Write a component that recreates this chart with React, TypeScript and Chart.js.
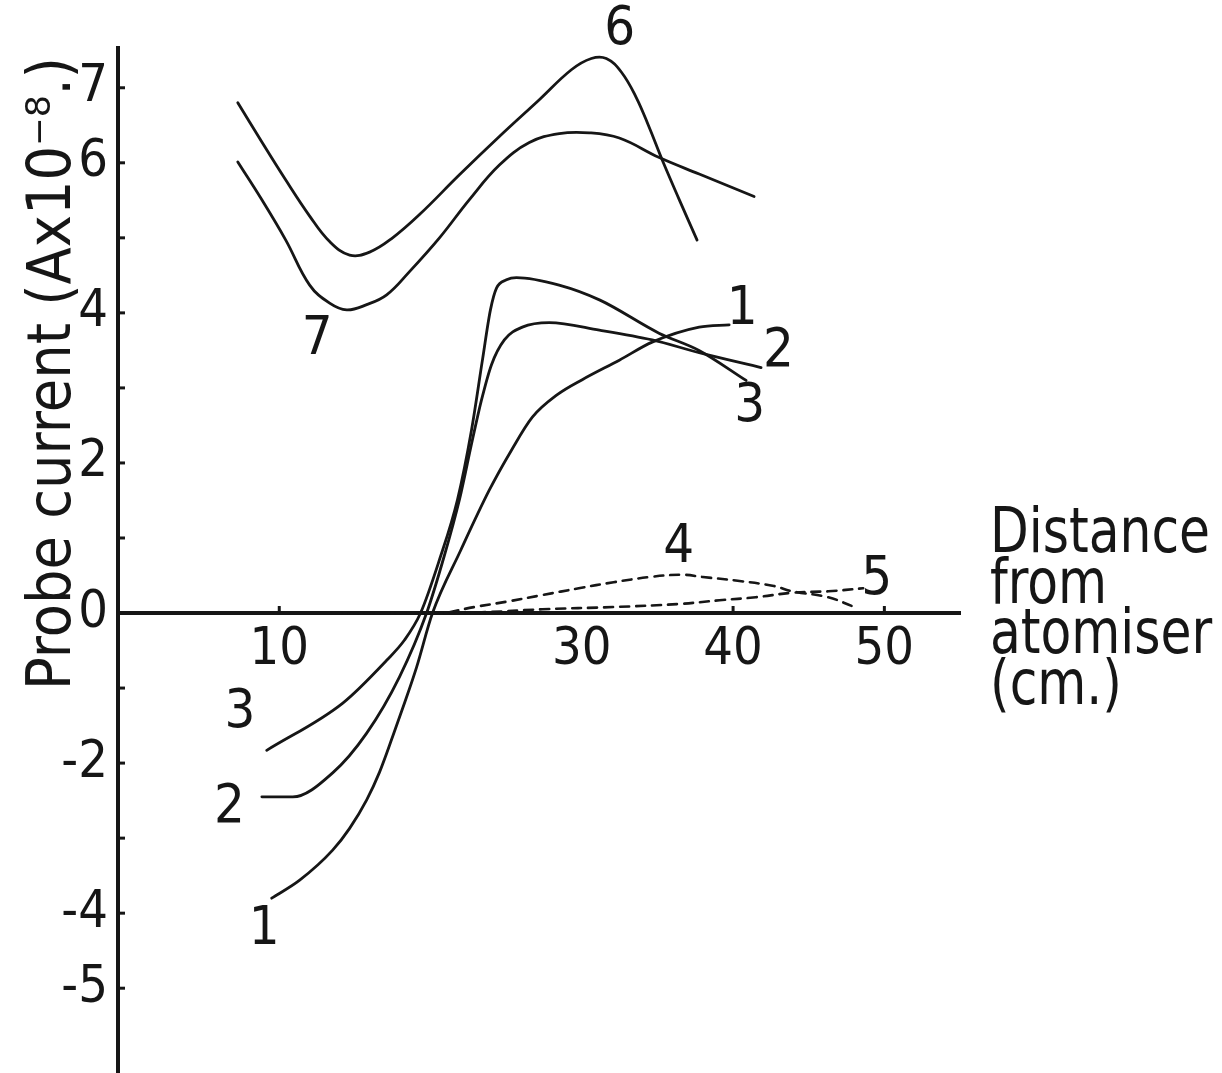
import React, { useEffect, useRef } from 'react';
import { Chart, registerables } from 'chart.js';

Chart.register(...registerables);

const FONT = "'Liberation Sans Narrow', 'DejaVu Sans Condensed', 'Liberation Sans', sans-serif";
const INK = '#161616';

// axis ranges
const X_MIN = -0.66;
const X_MAX = 55;
const Y_MIN = -6.13;
const Y_MAX = 7.53;

// ticks
const X_TICKS = [10, 20, 30, 40, 50];
const X_TICK_LABELS = ['10', '', '30', '40', '50'];
const X_TICK_MARKS = [10, 40, 50];
const Y_TICKS = [-5, -4, -3, -2, -1, 0, 1, 2, 3, 4, 5, 6, 7];
const Y_TICK_LABELS = ['-5', '-4', '', '-2', '', '0', '', '2', '', '4', '', '6', '7'];

// titles
const Y_TITLE = 'Probe current (Ax10\u207B\u2078.)';
const X_TITLE_LINES = ['Distance', 'from', 'atomiser', '(cm.)'];

// curve 1
const c1X = [9.5, 11.35, 13.53, 14.65, 15.78, 16.63, 17.49, 18.28, 19.08, 20.13, 21.98, 23.89, 25.35, 26.73, 28.38, 30.03, 32.48, 34.65, 37.76, 39.74];
const c1Y = [-3.8, -3.56, -3.16, -2.87, -2.49, -2.12, -1.65, -1.2, -0.72, 0, 0.83, 1.64, 2.17, 2.61, 2.91, 3.11, 3.37, 3.61, 3.81, 3.84];
// curve 2
const c2X = [8.85, 10.89, 13.53, 15.78, 17.95, 19.74, 20.92, 21.91, 22.77, 23.37, 24.03, 24.88, 26.07, 27.85, 31.16, 34.65, 37.76, 41.85];
const c2Y = [-2.45, -2.45, -2.13, -1.6, -0.85, 0, 0.77, 1.51, 2.31, 2.84, 3.31, 3.64, 3.81, 3.87, 3.77, 3.64, 3.47, 3.27];
// curve 3
const c3X = [9.17, 14.2, 17.1, 18.28, 19.34, 20.59, 21.78, 22.71, 23.43, 23.96, 24.36, 25.02, 25.68, 28.5, 31.2, 35.1, 37.75, 40.86];
const c3Y = [-1.83, -1.2, -0.63, -0.36, 0, 0.71, 1.51, 2.44, 3.37, 4.04, 4.33, 4.44, 4.47, 4.37, 4.17, 3.73, 3.5, 3.1];
// curve 4 (dashed)
const c4X = [21.25, 22.9, 25.0, 27.4, 29.8, 32.1, 34.5, 36.6, 38.0, 40.3, 42.7, 43.9, 46.3, 47.9];
const c4Y = [0.01, 0.08, 0.15, 0.24, 0.33, 0.41, 0.48, 0.51, 0.48, 0.43, 0.36, 0.29, 0.21, 0.09];
// curve 5 (dashed)
const c5X = [13.5, 19.9, 23.4, 27.4, 32.1, 36.4, 39.1, 41.5, 43.9, 46.3, 48.6];
const c5Y = [-0.01, 0, 0.01, 0.05, 0.08, 0.12, 0.17, 0.21, 0.27, 0.29, 0.33];
// curve 6
const c6X = [7.26, 8.84, 10.43, 12.01, 13.33, 14.65, 15.97, 17.43, 19.27, 21.91, 24.55, 27.19, 29.31, 30.63, 31.62, 32.61, 33.6, 34.46, 35.31, 36.44, 37.62];
const c6Y = [6.8, 6.28, 5.77, 5.29, 4.95, 4.77, 4.81, 4.99, 5.31, 5.84, 6.35, 6.84, 7.24, 7.39, 7.39, 7.21, 6.87, 6.47, 6.04, 5.51, 4.97];
// curve 7
const c7X = [7.26, 8.84, 10.43, 12.01, 13.33, 14.46, 15.78, 17.1, 18.61, 20.59, 22.57, 24.55, 26.53, 28.51, 30.5, 32.48, 35.12, 37.76, 41.39];
const c7Y = [6.01, 5.51, 4.97, 4.37, 4.13, 4.04, 4.11, 4.24, 4.55, 5.0, 5.51, 5.97, 6.27, 6.39, 6.4, 6.33, 6.07, 5.85, 5.55];

// curve number labels (data units)
const LABEL_TEXT = ['6', '7', '1', '2', '3', '4', '5', '3', '2', '1'];
const LABEL_X = [32.5, 12.5, 40.6, 43.0, 41.1, 36.4, 49.5, 7.4, 6.7, 9.0];
const LABEL_Y = [7.77, 3.64, 4.04, 3.48, 2.75, 0.87, 0.44, -1.33, -2.6, -4.23];

const zip = (xs: number[], ys: number[]) => xs.map((x, i) => ({ x, y: ys[i] }));

const SERIES = [
  { label: '1', data: zip(c1X, c1Y), dashed: false, mono: true },
  { label: '2', data: zip(c2X, c2Y), dashed: false, mono: true },
  { label: '3', data: zip(c3X, c3Y), dashed: false, mono: true },
  { label: '4', data: zip(c4X, c4Y), dashed: true, mono: false },
  { label: '5', data: zip(c5X, c5Y), dashed: true, mono: false },
  { label: '6', data: zip(c6X, c6Y), dashed: false, mono: false },
  { label: '7', data: zip(c7X, c7Y), dashed: false, mono: false },
];

const decorPlugin = {
  id: 'decor',
  afterDraw(chart: any) {
    const ctx = chart.ctx as CanvasRenderingContext2D;
    const xs = chart.scales.x;
    const ys = chart.scales.y;
    const area = chart.chartArea;
    const y0 = ys.getPixelForValue(0);
    ctx.save();
    ctx.strokeStyle = INK;
    ctx.fillStyle = INK;
    ctx.lineWidth = 3;
    // y tick marks (inside)
    Y_TICKS.forEach((v) => {
      if (v === 0) return;
      const py = ys.getPixelForValue(v);
      ctx.beginPath();
      ctx.moveTo(area.left, py);
      ctx.lineTo(area.left + 7, py);
      ctx.stroke();
    });
    // x tick marks (above axis)
    X_TICK_MARKS.forEach((v) => {
      const px = xs.getPixelForValue(v);
      ctx.beginPath();
      ctx.moveTo(px, y0);
      ctx.lineTo(px, y0 - 7);
      ctx.stroke();
    });
    // curve labels
    ctx.font = `54px ${FONT}`;
    ctx.textAlign = 'center';
    ctx.textBaseline = 'middle';
    LABEL_TEXT.forEach((t, i) => {
      ctx.fillText(t, xs.getPixelForValue(LABEL_X[i]), ys.getPixelForValue(LABEL_Y[i]));
    });
    // x axis title on the right
    ctx.save();
    ctx.font = `62px ${FONT}`;
    ctx.textAlign = 'left';
    ctx.textBaseline = 'alphabetic';
    const sx = 220 / ctx.measureText(X_TITLE_LINES[0]).width;
    ctx.translate(area.right + 30, y0 - 61);
    ctx.scale(sx, 1);
    X_TITLE_LINES.forEach((t, i) => {
      ctx.fillText(t, 0, i * 50.5);
    });
    ctx.restore();
    // y axis title, rotated
    ctx.save();
    ctx.translate(70, 690);
    ctx.rotate(-Math.PI / 2);
    ctx.font = `60px ${FONT}`;
    ctx.textAlign = 'left';
    ctx.textBaseline = 'alphabetic';
    const w = ctx.measureText(Y_TITLE).width;
    ctx.scale(633 / w, 1);
    ctx.fillText(Y_TITLE, 0, 0);
    ctx.restore();
    ctx.restore();
  },
};

export default function App() {
  const ref = useRef<HTMLCanvasElement | null>(null);
  useEffect(() => {
    if (!ref.current) return;
    const chart = new Chart(ref.current, {
      type: 'line',
      data: {
        datasets: SERIES.map((s) => ({
          label: s.label,
          data: s.data,
          borderColor: INK,
          borderWidth: s.dashed ? 2.6 : 2.8,
          borderDash: s.dashed ? [9, 7] : [],
          borderCapStyle: 'round',
          pointRadius: 0,
          fill: false,
          tension: 0.4,
          cubicInterpolationMode: s.mono ? 'monotone' : 'default',
        })),
      },
      options: {
        animation: false,
        responsive: false,
        devicePixelRatio: 1,
        layout: { padding: { left: 0, top: 48, right: 262, bottom: 0 } },
        plugins: { legend: { display: false }, tooltip: { enabled: false } },
        scales: {
          x: {
            type: 'linear',
            min: X_MIN,
            max: X_MAX,
            position: { y: 0 },
            afterBuildTicks: (axis: any) => {
              axis.ticks = X_TICKS.map((v) => ({ value: v }));
            },
            afterFit: (axis: any) => {
              axis.paddingLeft = 0;
              axis.paddingRight = 0;
            },
            ticks: {
              autoSkip: false,
              maxRotation: 0,
              padding: 6,
              color: INK,
              font: { family: FONT, size: 52 },
              callback: (v: any) => {
                const i = X_TICKS.indexOf(Number(v));
                return i >= 0 ? X_TICK_LABELS[i] : '';
              },
            },
            grid: { display: false, drawTicks: false },
            border: { display: true, color: INK, width: 4 },
          },
          y: {
            type: 'linear',
            min: Y_MIN,
            max: Y_MAX,
            afterBuildTicks: (axis: any) => {
              axis.ticks = Y_TICKS.map((v) => ({ value: v }));
            },
            afterFit: (axis: any) => {
              axis.width = 118;
              axis.paddingTop = 0;
              axis.paddingBottom = 0;
            },
            ticks: {
              autoSkip: false,
              padding: 10,
              color: INK,
              font: { family: FONT, size: 52 },
              callback: (v: any) => {
                const i = Y_TICKS.indexOf(Number(v));
                return i >= 0 ? Y_TICK_LABELS[i] : '';
              },
            },
            grid: { display: false, drawTicks: false },
            border: { display: true, color: INK, width: 4 },
          },
        },
      } as any,
      plugins: [decorPlugin],
    });
    return () => chart.destroy();
  }, []);
  return (
    <div style={{ position: 'absolute', left: 0, top: 0, width: 1222, height: 1073, background: '#fff' }}>
      <canvas ref={ref} width={1222} height={1073} style={{ width: 1222, height: 1073, display: 'block' }} />
    </div>
  );
}
